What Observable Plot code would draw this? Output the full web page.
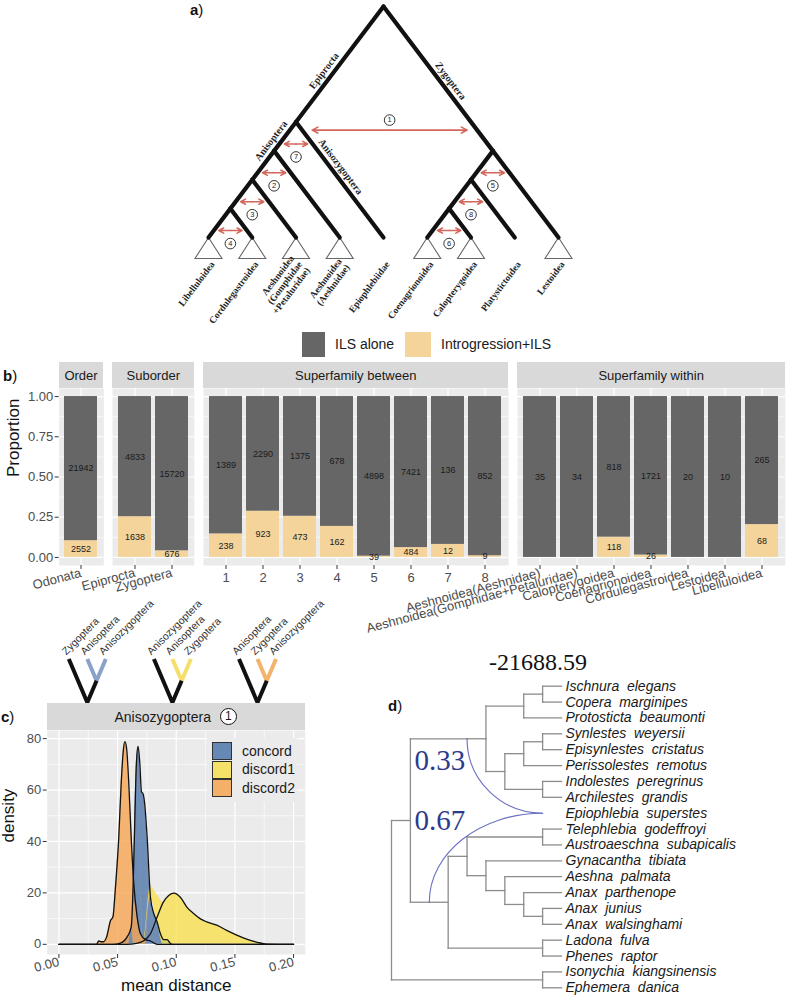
<!DOCTYPE html>
<html><head><meta charset="utf-8">
<script src="https://cdn.jsdelivr.net/npm/d3@7"></script>
<script src="https://cdn.jsdelivr.net/npm/@observablehq/plot@0.6"></script>
<style>
html,body{margin:0;padding:0;background:#fff;}
body{width:787px;height:1002px;position:relative;overflow:hidden;font-family:"Liberation Sans",Arial,Helvetica,sans-serif;color:#1a1a1a;}
.abs{position:absolute;}
.strip{position:absolute;background:#d9d9d9;color:#1a1a1a;font-size:13px;display:flex;align-items:center;justify-content:center;white-space:nowrap;}
.tag{position:absolute;font-size:15px;color:#111;line-height:16px;}
svg{overflow:visible;}
</style></head><body>
<script>
// ================= DATA =================
// Panel a: superfamily cladogram ([name, children] for internal nodes, string for tips)
const cladeTree = ["Odonata", [
  ["Epiprocta", [
    ["Anisoptera", [
      ["n3", [
        ["n4", ["Libelluloidea", "Cordulegastroidea"]],
        "Aeshnoidea\n(Gomphidae\n+Petaluridae)"]],
      "Aeshnoidea\n(Aeshnidae)"]],
    "Epiophlebiidae"]],
  ["Zygoptera", [
    ["z2", [
      ["z3", ["Coenagrionoidea", "Calopterygoidea"]],
      "Platystictoidea"]],
    "Lestoidea"]]
]];
const collapsedClades = ["Libelluloidea", "Cordulegastroidea", "Aeshnoidea\n(Gomphidae\n+Petaluridae)",
  "Aeshnoidea\n(Aeshnidae)", "Coenagrionoidea", "Calopterygoidea", "Lestoidea"];
const branchLabelText = ["Epiprocta", "Anisoptera", "Zygoptera", "Anisozygoptera"];
const branchLabelBranch = ["Epiprocta", "Anisoptera", "Zygoptera", "Epiophlebiidae"];
const introArrowIds = ["1", "7", "2", "3", "4", "5", "8", "6"];
const introArrowNodes = ["Epiprocta", "Epiprocta", "Anisoptera", "n3", "n4", "Zygoptera", "z2", "z3"];

// Panel b: stacked proportions
const facetNames = ["Order", "Suborder", "Superfamily between", "Superfamily within"];
const facetCategories = [
  ["Odonata"],
  ["Epiprocta", "Zygoptera"],
  ["1", "2", "3", "4", "5", "6", "7", "8"],
  ["Aeshnoidea(Aeshnidae)", "Aeshnoidea(Gomphidae+Petaluridae)", "Calopterygoidea", "Coenagrionoidea",
   "Cordulegastroidea", "Lestoidea", "Libelluloidea"]
];
const ilsAlone = [[21942], [4833, 15720], [1389, 2290, 1375, 678, 4898, 7421, 136, 852], [35, 34, 818, 1721, 20, 10, 265]];
const introgressionILS = [[2552], [1638, 676], [238, 923, 473, 162, 39, 484, 12, 9], [0, 0, 118, 26, 0, 0, 68]];
const stackTypes = ["ILS alone", "Introgression+ILS"];
const yTicksB = [0, 0.25, 0.5, 0.75, 1];

// Panel c: densities of mean distance
const topologyNames = ["concord", "discord1", "discord2"];
const topologyTips = [["Zygoptera", "Anisoptera", "Anisozygoptera"],
                      ["Anisozygoptera", "Anisoptera", "Zygoptera"],
                      ["Anisoptera", "Zygoptera", "Anisozygoptera"]];
const concordX = [0, 0.046, 0.0525, 0.058, 0.0616, 0.0633, 0.0647, 0.066, 0.0675, 0.069, 0.0703, 0.0718, 0.073, 0.0752, 0.078, 0.0809, 0.0837, 0.0865, 0.0894, 0.0922, 0.095, 0.097, 0.2];
const concordY = [0, 0, 0.5, 2.8, 6.7, 23.5, 49, 70, 77, 70, 59.5, 58.4, 55, 41.6, 18.3, 11.9, 8.7, 4.1, 1.8, 1.8, 0.3, 0, 0];
const discord1X = [0, 0.058, 0.066, 0.072, 0.078, 0.0837, 0.089, 0.0936, 0.098, 0.1035, 0.109, 0.115, 0.1206, 0.126, 0.135, 0.143, 0.152, 0.160, 0.169, 0.177, 0.2];
const discord1Y = [0, 0, 0.4, 1.3, 4.1, 10.6, 16.4, 19, 19.9, 18.3, 14.5, 11.9, 9.9, 8.7, 7.4, 5.4, 3.5, 2, 0.8, 0.1, 0];
const discord2X = [0, 0.032, 0.034, 0.036, 0.038, 0.0406, 0.044, 0.046, 0.048, 0.051, 0.053, 0.0548, 0.0562, 0.0576, 0.0596, 0.0616, 0.0638, 0.0667, 0.0695, 0.0738, 0.078, 0.081, 0.084, 0.2];
const discord2Y = [0, 0, 1.3, 1, 1, 2.8, 9.3, 10.6, 21, 41.6, 62, 75, 78.8, 76.5, 62, 41.6, 23.5, 10.6, 4.1, 1.8, 1.3, 0.5, 0, 0];
const densityTicksX = [0, 0.05, 0.10, 0.15, 0.20];
const densityTicksY = [0, 20, 40, 60, 80];

// Panel d: species network
const speciesTips = ["Ischnura elegans", "Copera marginipes", "Protosticta beaumonti", "Synlestes weyersii",
  "Episynlestes cristatus", "Perissolestes remotus", "Indolestes peregrinus", "Archilestes grandis",
  "Epiophlebia superstes", "Telephlebia godeffroyi", "Austroaeschna subapicalis", "Gynacantha tibiata",
  "Aeshna palmata", "Anax parthenope", "Anax junius", "Anax walsinghami", "Ladona fulva", "Phenes raptor",
  "Isonychia kiangsinensis", "Ephemera danica"];
const speciesTree = [
  [
    [[ [["Ischnura elegans", "Copera marginipes"], "Protosticta beaumonti"],
       [[["Synlestes weyersii", "Episynlestes cristatus"], "Perissolestes remotus"], ["Indolestes peregrinus", "Archilestes grandis"]] ]],
    [[ [["Telephlebia godeffroyi", "Austroaeschna subapicalis"],
        ["Gynacantha tibiata", ["Aeshna palmata", ["Anax parthenope", ["Anax junius", "Anax walsinghami"]]]]],
       ["Ladona fulva", "Phenes raptor"] ]]
  ],
  ["Isonychia kiangsinensis", "Ephemera danica"]
];
const hybridTip = "Epiophlebia superstes";
const inheritanceGamma = [0.33, 0.67];
const networkScore = "-21688.59";

// ================= HELPERS =================
const SANS = "Liberation Sans, Arial, Helvetica, sans-serif";
const SERIF = "Liberation Serif, Times New Roman, serif";
const baseStyle = {background: "transparent", overflow: "visible", fontFamily: SANS};
function place(el, left, top) {
  const d = document.createElement("div");
  d.className = "abs"; d.style.left = left + "px"; d.style.top = top + "px";
  d.appendChild(el); document.body.appendChild(d); return d;
}
function addHTML(h, left, top, css = "", cls = "abs") {
  const d = document.createElement("div");
  d.className = cls; d.style.cssText = `left:${left}px;top:${top}px;${css}`;
  d.innerHTML = h; document.body.appendChild(d); return d;
}

// ================= PANEL A =================
const hA = d3.hierarchy(cladeTree, d => Array.isArray(d) ? d[1] : null);
hA.leaves().forEach((l, i) => { l.lo = l.hi = i; });
hA.eachAfter(n => {
  n.name = Array.isArray(n.data) ? n.data[0] : n.data;
  if (n.children) { n.lo = d3.min(n.children, c => c.lo); n.hi = d3.max(n.children, c => c.hi); }
  n.px = (n.lo + n.hi) / 2; n.ph = (n.hi - n.lo) / 2;
});
const nodeA = new Map(hA.descendants().map(n => [n.name, n]));
const linksA = hA.links().map(({source: s, target: t}) => ({x1: s.px, y1: s.ph, x2: t.px, y2: t.ph}));
const tipsA = hA.leaves();
const triTips = tipsA.filter(l => collapsedClades.includes(l.name));
const triangleSym = {draw(ctx) { ctx.moveTo(0, 0); ctx.lineTo(13.5, 21); ctx.lineTo(-13.5, 21); ctx.closePath(); }};

const alongFrac = {Epiprocta: 0.6, Anisoptera: 0.82, Zygoptera: 0.55, Epiophlebiidae: 0.43};
const bLabels = branchLabelText.map((t, i) => {
  const c = nodeA.get(branchLabelBranch[i]), p = c.parent, f = alongFrac[c.name];
  return {t, x: p.px + f * (c.px - p.px), y: p.ph + f * (c.ph - p.ph), left: c.px < p.px};
});
const arrowsA = introArrowIds.map((id, i) => {
  const n = nodeA.get(introArrowNodes[i]);
  if (id === "1") {
    const d = 0.14, h = n.ph - d, r = hA;
    const xl = n.px + (n.ph - h), xr = r.px + (r.ph - h);
    return {id, y: h, xl, xr, xm: (xl + xr) / 2};
  }
  const d = 0.38, h = n.ph - d;
  return {id, y: h, xl: n.px - d, xr: n.px + d, xm: n.px};
});
const arrowColor = "#d4675c";
const arr1 = arrowsA.filter(a => a.id === "1"), arrRest = arrowsA.filter(a => a.id !== "1");
function arrowMarks(data, inset) {
  return [
    Plot.arrow(data, {x1: "xm", y1: "y", x2: "xl", y2: "y", stroke: arrowColor, strokeWidth: 1.6, headLength: 6, headAngle: 55, insetEnd: inset}),
    Plot.arrow(data, {x1: "xm", y1: "y", x2: "xr", y2: "y", stroke: arrowColor, strokeWidth: 1.6, headLength: 6, headAngle: 55, insetEnd: inset})
  ];
}
function circleMarks(data, dy) {
  return [
    Plot.dot(data, {x: "xm", y: "y", dy, r: 5.3, fill: "white", stroke: "#333", strokeWidth: 1}),
    Plot.text(data, {x: "xm", y: "y", dy, text: "id", fontSize: 7.5, fill: "#222"})
  ];
}
const plotA = Plot.plot({
  width: 787, height: 335, margin: 0, style: baseStyle,
  x: {domain: [0, 8], range: [208, 558], axis: null},
  y: {domain: [0, 4], range: [237, 6], axis: null},
  marks: [
    Plot.dot(triTips, {x: "px", y: 0, symbol: triangleSym, r: 5, fill: "white", stroke: "#666", strokeWidth: 1.1}),
    Plot.link(linksA, {x1: "x1", y1: "y1", x2: "x2", y2: "y2", stroke: "#111", strokeWidth: 4.2, strokeLinecap: "round"}),
    ...arrowMarks(arr1, 10), ...arrowMarks(arrRest, 5),
    ...circleMarks(arr1, -10), ...circleMarks(arrRest, 13),
    Plot.text(tipsA, {x: "px", y: 0, text: "name", dx: 4, dy: 25, rotate: -53, textAnchor: "end", lineAnchor: "middle",
      lineHeight: 1.05, fontFamily: SERIF, fontWeight: "bold", fontSize: 9.5, fill: "#222"}),
    Plot.text(bLabels.filter(d => d.left), {x: "x", y: "y", text: "t", rotate: -53, dx: -7, dy: -5,
      fontFamily: SERIF, fontWeight: "bold", fontSize: 10, fill: "#222"}),
    Plot.text(bLabels.filter(d => !d.left), {x: "x", y: "y", text: "t", rotate: 53, dx: 7, dy: -5,
      fontFamily: SERIF, fontWeight: "bold", fontSize: 10, fill: "#222"})
  ]
});
place(plotA, 0, 0);
addHTML("<b>a</b>)", 190, 2, "", "tag");

// ================= LEGEND B =================
addHTML("", 301.7, 331.7, "width:23.5px;height:25px;background:#666666;");
addHTML("ILS alone", 335, 336, "font-size:14px;color:#1a1a1a;");
addHTML("", 405, 331.7, "width:26px;height:25px;background:#f4d49b;");
addHTML("Introgression+ILS", 441, 336, "font-size:14px;color:#1a1a1a;");
addHTML("<b>b</b>)", 3, 368, "", "tag");

// ================= PANEL B =================
{
  const unit = 37.2, gap = 9;
  let left = 58.7;
  facetNames.forEach((fname, fi) => {
    const cats = facetCategories[fi];
    const w = (cats.length + 0.2) * unit;
    const rows = [];
    cats.forEach((c, j) => {
      rows.push({cat: c, type: "Introgression+ILS", n: introgressionILS[fi][j]});
      rows.push({cat: c, type: "ILS alone", n: ilsAlone[fi][j]});
    });
    const first = fi === 0;
    const ml = first ? 58.7 : 0;
    const order = ["Introgression+ILS", "ILS alone"];
    const marks = [
      Plot.frame({fill: "#ebebeb", stroke: "none"}),
      Plot.ruleY([0.125, 0.375, 0.625, 0.875], {stroke: "white", strokeWidth: 0.6}),
      Plot.ruleY(yTicksB, {stroke: "white", strokeWidth: 1.2}),
      Plot.gridX({stroke: "white", strokeOpacity: 1, strokeWidth: 1.2}),
      Plot.barY(rows, Plot.stackY({x: "cat", y: "n", fill: "type", offset: "normalize", order})),
      Plot.text(rows.filter(d => d.n > 0), Plot.stackY({x: "cat", y: "n", z: "type", offset: "normalize", order,
        text: d => String(d.n), fontSize: 9, fill: "#1a1a1a"})),
      Plot.axisX({tickRotate: fi === 2 ? 0 : -15, tickSize: 4, tickPadding: 3, fontSize: 13, fill: "#4d4d4d", stroke: "#333", label: null})
    ];
    if (first) {
      marks.push(Plot.axisY(yTicksB, {tickFormat: d3.format(".2f"), tickSize: 4, tickPadding: 2, fontSize: 13, fill: "#4d4d4d", stroke: "#333", label: null}));
      marks.push(Plot.text(["Proportion"], {text: d => d, frameAnchor: "left", rotate: -90, dx: -46, fontSize: 17, fill: "#111"}));
    }
    const p = Plot.plot({
      width: ml + w, height: 177 + 70, marginLeft: ml, marginRight: 0, marginTop: 0, marginBottom: 70,
      style: baseStyle,
      x: {domain: cats, paddingInner: 0.1, paddingOuter: 0.15, axis: null},
      y: {domain: [-0.05, 1.05], axis: null},
      color: {domain: stackTypes, range: ["#666666", "#f4d49b"]},
      marks
    });
    place(p, left - ml, 388);
    addHTML(fname, left, 362, `width:${w}px;height:26px;`, "strip");
    left += w + gap;
  });
}

// ================= PANEL C =================
const densityFill = ["#4f77ab", "#f7e050", "#f6a552"];
const iconColors = ["#8aa2c8", "#f4df6c", "#f2b46c"];
{
  // topology icons
  const iconSpacing = 4.6;
  const blackRows = [], colRows = [], labRows = [];
  topologyTips.forEach((tips, i) => {
    const o = i * iconSpacing;
    blackRows.push({g: i, x: o, y: 0}, {g: i, x: o + 1, y: 1}, {g: i, x: o + 1.5, y: 0.5});
    colRows.push({g: topologyNames[i], x: o + 1, y: 0}, {g: topologyNames[i], x: o + 1.5, y: 0.5}, {g: topologyNames[i], x: o + 2, y: 0});
    tips.forEach((t, j) => labRows.push({t, x: o + j, y: 0}));
  });
  const icons = Plot.plot({
    width: 270, height: 105, margin: 0, style: baseStyle,
    x: {domain: [0, 1], range: [28.3, 46.8], axis: null},
    y: {domain: [0, 1], range: [58.5, 102], axis: null},
    color: {domain: topologyNames, range: iconColors},
    marks: [
      Plot.line(colRows, {x: "x", y: "y", z: "g", stroke: "g", strokeWidth: 4, strokeLinejoin: "miter", strokeLinecap: "butt"}),
      Plot.line(blackRows, {x: "x", y: "y", z: "g", stroke: "#111", strokeWidth: 4, strokeLinejoin: "miter", strokeLinecap: "butt"}),
      Plot.text(labRows, {x: "x", y: "y", text: "t", rotate: -45, textAnchor: "start", dx: -5, dy: -6, fontSize: 10.5, fill: "#333"})
    ]
  });
  place(icons, 40, 600);

  const densRows = [];
  [[concordX, concordY], [discord1X, discord1Y], [discord2X, discord2Y]].forEach(([xs, ys], k) =>
    xs.forEach((x, i) => densRows.push({s: topologyNames[k], x, y: ys[i]})));
  const plotC = Plot.plot({
    width: 310, height: 272, marginLeft: 46.7, marginRight: 5.2, marginTop: 0, marginBottom: 48,
    style: baseStyle,
    x: {domain: [-0.01, 0.21], axis: null},
    y: {domain: [-3.96, 83.16], axis: null},
    color: {domain: topologyNames, range: densityFill},
    marks: [
      Plot.frame({fill: "#ebebeb", stroke: "none"}),
      Plot.ruleX([0.025, 0.075, 0.125, 0.175], {stroke: "white", strokeWidth: 0.6}),
      Plot.ruleY([10, 30, 50, 70], {stroke: "white", strokeWidth: 0.6}),
      Plot.ruleX(densityTicksX, {stroke: "white", strokeWidth: 1.2}),
      Plot.ruleY(densityTicksY, {stroke: "white", strokeWidth: 1.2}),
      Plot.areaY(densRows, {x: "x", y: "y", fill: "s", fillOpacity: 0.8, curve: "monotone-x"}),
      Plot.lineY(densRows, {x: "x", y: "y", z: "s", stroke: "#111", strokeWidth: 1.3, curve: "monotone-x"}),
      Plot.axisX(densityTicksX, {tickFormat: d3.format(".2f"), tickRotate: -15, tickSize: 4, tickPadding: 3, fontSize: 13, fill: "#4d4d4d", stroke: "#333", label: null}),
      Plot.axisY(densityTicksY, {tickSize: 4, tickPadding: 2, fontSize: 13, fill: "#4d4d4d", stroke: "#333", label: null}),
      Plot.text(["mean distance"], {text: d => d, frameAnchor: "bottom", dy: 36, fontSize: 17, fill: "#111"}),
      Plot.text(["density"], {text: d => d, frameAnchor: "left", rotate: -90, dx: -39, fontSize: 17, fill: "#111"})
    ]
  });
  place(plotC, 0, 730);
  addHTML(`<span>Anisozygoptera</span><span style="display:inline-block;width:15px;height:15px;border:1.3px solid #111;border-radius:50%;background:#fff;margin-left:9px;font-size:12px;line-height:15px;text-align:center;">1</span>`,
    46.7, 703, "width:258px;height:27px;font-size:14px;", "strip");
  // legend
  addHTML("", 207, 738, "width:90px;height:64px;background:#ebebeb;");
  topologyNames.forEach((nm, i) => {
    addHTML("", 211.7, 741.7 + i * 18.8, `width:18px;height:16.2px;border:1.4px solid #111;background:${densityFill[i]};opacity:0.85;`);
    addHTML(nm, 242, 742.5 + i * 18.8, "font-size:14px;color:#1a1a1a;line-height:17px;");
  });
  addHTML("<b>c</b>)", 1, 709, "", "tag");
}

// ================= PANEL D =================
{
  const hD = d3.hierarchy(speciesTree, d => Array.isArray(d) ? d : null);
  hD.eachAfter(n => {
    n.hx = n.height;
    n.yy = n.children ? d3.mean(n.children, c => c.yy) : speciesTips.indexOf(n.data);
  });
  const seg = [];
  hD.each(n => {
    if (!n.children) return;
    const ys = n.children.map(c => c.yy);
    if (n.children.length > 1) seg.push({x1: n.hx, x2: n.hx, y1: d3.min(ys), y2: d3.max(ys)});
    n.children.forEach(c => seg.push({x1: n.hx, x2: c.hx, y1: c.yy, y2: c.yy}));
  });
  const hybridParents = hD.descendants().filter(n => n.children && n.children.length === 1);
  const hTip = speciesTips.indexOf(hybridTip);
  const hybRows = hybridParents.flatMap((n, i) => [{g: i, x: n.hx, y: n.yy}, {g: i, x: 1, y: hTip}]);
  const gammaRows = hybridParents.map((n, i) => ({x: n.parent.hx, y: n.parent.yy, t: inheritanceGamma[i].toFixed(2), i}));
  const ellipseCurve = ctx => {
    let pts = [];
    return {
      areaStart() {}, areaEnd() {},
      lineStart() { pts = []; },
      point(x, y) { pts.push([+x, +y]); },
      lineEnd() {
        if (pts.length < 2) return;
        const [a, b] = pts, k = 0.5523;
        ctx.moveTo(a[0], a[1]);
        ctx.bezierCurveTo(a[0], a[1] + k * (b[1] - a[1]), b[0] - k * (b[0] - a[0]), b[1], b[0], b[1]);
      }
    };
  };
  const tipRows = speciesTips.map((t, i) => ({t: t.replace(" ", "\u00a0\u00a0"), i}));
  const plotD = Plot.plot({
    width: 407, height: 362, margin: 0, style: baseStyle,
    x: {domain: [0, 9], range: [181, 11], axis: null},
    y: {domain: [0, 19], range: [45.7, 347.3], axis: null},
    marks: [
      Plot.link(seg, {x1: "x1", y1: "y1", x2: "x2", y2: "y2", stroke: "#8c8c8c", strokeWidth: 1.3, strokeLinecap: "square"}),
      Plot.line(hybRows, {x: "x", y: "y", z: "g", curve: ellipseCurve, stroke: "#6a6fc2", strokeWidth: 1.1}),
      Plot.text(tipRows, {x: 0, y: "i", text: "t", dx: 4, textAnchor: "start", fontStyle: "italic", fontSize: 14, fill: "#1a1a1a"}),
      Plot.text(gammaRows.filter(d => d.i === 0), {x: "x", y: "y", text: "t", dx: 4, dy: -60, textAnchor: "start", fontFamily: SERIF, fontSize: 29, fill: "#2d3a8c"}),
      Plot.text(gammaRows.filter(d => d.i === 1), {x: "x", y: "y", text: "t", dx: 4, dy: 0, textAnchor: "start", fontFamily: SERIF, fontSize: 29, fill: "#2d3a8c"})
    ]
  });
  place(plotD, 380, 640);
  addHTML(networkScore, 478, 648, `width:120px;text-align:center;font-family:${SERIF};font-size:24px;line-height:28px;color:#111;`);
  addHTML("<b>d</b>)", 388, 698, "", "tag");
}
</script>
</body></html>
